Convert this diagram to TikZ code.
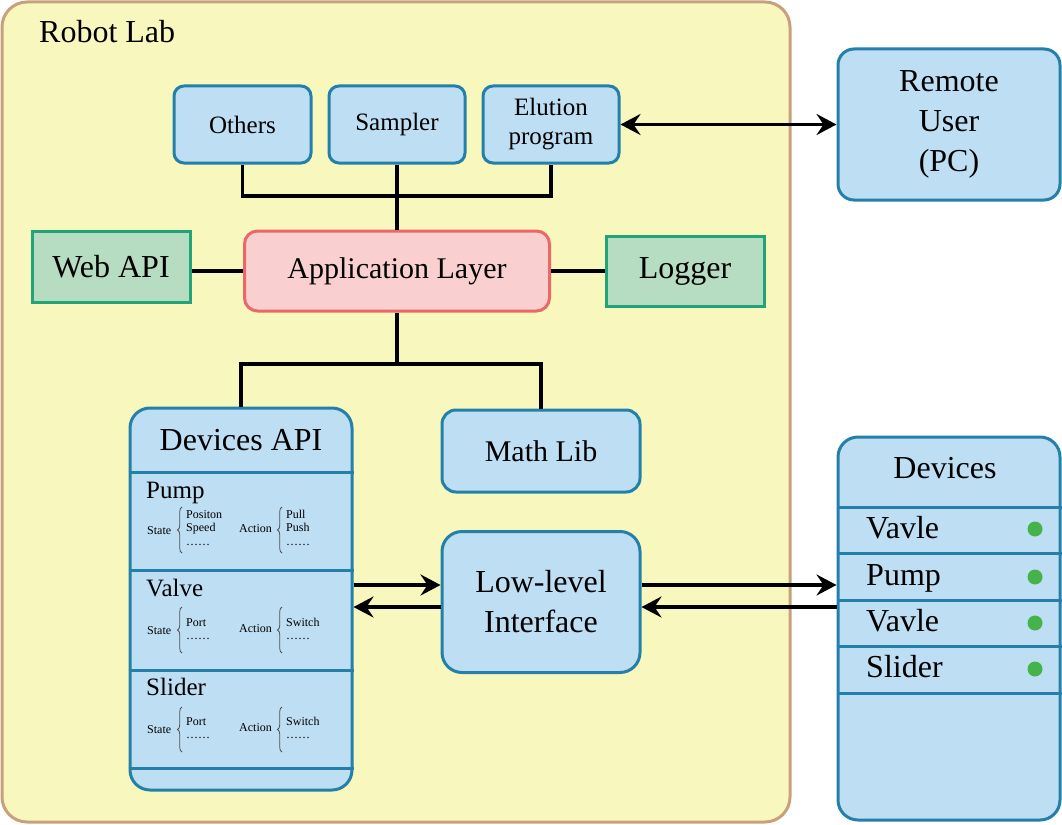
\documentclass[tikz,border=0pt]{standalone}
\usepackage{fontspec}
\setmainfont{Liberation Serif}
\usepackage{tikz}
\usetikzlibrary{shapes,positioning,calc}
\usetikzlibrary{arrows.meta,decorations.pathreplacing}
\definecolor{labfill}{RGB}{248,247,190}
\definecolor{labline}{RGB}{200,160,125}
\definecolor{bluefill}{RGB}{190,222,244}
\definecolor{blueline}{RGB}{35,128,170}
\definecolor{pinkfill}{RGB}{249,207,207}
\definecolor{pinkline}{RGB}{234,104,104}
\definecolor{greenfill}{RGB}{182,220,193}
\definecolor{greenline}{RGB}{32,164,120}
\definecolor{dotgreen}{RGB}{70,178,75}
\definecolor{bracegray}{RGB}{80,80,80}

\begin{document}
\begin{tikzpicture}[x=1pt,y=-1pt,>={Stealth[length=20pt,width=21pt,inset=7pt]},
  bigfont/.style={font=\fontsize{32}{40}\selectfont},
  midfont/.style={font=\fontsize{30}{38}\selectfont},
  smallfont/.style={font=\fontsize{25}{29}\selectfont},
  tinyfont/.style={font=\fontsize{12}{13.5}\selectfont},
  bluebox/.style={draw=blueline,fill=bluefill,line width=3pt,rounded corners=#1,inner sep=0pt,align=center},
  bluebox/.default=10pt,
  greenbox/.style={draw=greenline,fill=greenfill,line width=3pt,inner sep=0pt},
  leftlabel/.style={anchor=west,inner sep=0pt,text height=#1,text depth=0pt},
  itemlist/.style={tinyfont,anchor=base west,inner sep=0pt},
  curly/.style={draw=bracegray,line width=0.8pt,decorate,decoration={brace,amplitude=4.5pt}},
  link/.style={line width=3.3pt},
  rowline/.style={draw=blueline,line width=3pt},
  dot/.style={circle,fill=dotgreen,inner sep=0pt,minimum size=15pt}]
\useasboundingbox (0,0) rectangle (1062,824);
% robot lab frame
\node[draw=labline,fill=labfill,line width=3pt,rounded corners=25pt,minimum width=788pt,minimum height=820pt] (lab) at (396,412) {};
\node[bigfont,leftlabel=21pt] (labname) at (39,32) {Robot Lab};
% top row
\node[bluebox,smallfont,minimum width=137pt,minimum height=77pt] (others) at (242.5,124.5) {Others};
\node[bluebox,smallfont,minimum width=136pt,minimum height=77pt] (sampler) at (397,124.5) {Sampler};
\node[bluebox,smallfont,minimum width=136pt,minimum height=77pt] (elution) at (551,124.5) {Elution\\program};
\node[bluebox=16pt,bigfont,minimum width=222pt,minimum height=151pt] (remote) at (949,124.5) {Remote\\User\\(PC)};
% middle row
\node[greenbox,bigfont,minimum width=158pt,minimum height=71pt] (webapi) at (111,266.5) {Web API};
\node[draw=pinkline,fill=pinkfill,line width=3pt,rounded corners=13pt,inner sep=0pt,midfont,minimum width=305pt,minimum height=80pt] (app) at (397,271) {Application Layer};
\node[greenbox,bigfont,minimum width=158pt,minimum height=70pt] (logger) at (685,271) {Logger};
% lower row
\node[bluebox=20pt,minimum width=222pt,minimum height=382pt] (dapi) at (241,599) {};
\node[bluebox=14pt,midfont,minimum width=198pt,minimum height=82pt] (math) at (541,451) {Math Lib};
\node[bluebox=20pt,bigfont,minimum width=198pt,minimum height=141pt] (ll) at (541,602) {Low-level\\Interface};
\node[bluebox=20pt,minimum width=222pt,minimum height=383pt] (dev) at (949,628.5) {};
% devices api sections
\draw[rowline] (dapi.west |- 0,472) -- (dapi.east |- 0,472);
\draw[rowline] (dapi.west |- 0,570) -- (dapi.east |- 0,570);
\draw[rowline] (dapi.west |- 0,670) -- (dapi.east |- 0,670);
\draw[rowline] (dapi.west |- 0,768) -- (dapi.east |- 0,768);
\node[bigfont] (dapiname) at (241,440) {Devices API};
\node[smallfont,leftlabel=16.5pt] (pump) at (146,490) {Pump};
\node[tinyfont,leftlabel=8pt] (pumpstate) at (147,530) {State};
\node[itemlist] (pumpstatelist) at (186,518) {\begin{tabular}[t]{@{}l@{}}Positon\\Speed\\……\end{tabular}};
\draw[curly] (182,553) -- (182,507);
\node[tinyfont,leftlabel=8pt] (pumpaction) at (239,528) {Action};
\node[itemlist] (pumpactionlist) at (286,518) {\begin{tabular}[t]{@{}l@{}}Pull\\Push\\……\end{tabular}};
\draw[curly] (282,553) -- (282,507);
\node[smallfont,leftlabel=16.5pt] (valve) at (146,588) {Valve};
\node[tinyfont,leftlabel=8pt] (valvestate) at (147,630) {State};
\node[itemlist] (valvestatelist) at (186,626) {\begin{tabular}[t]{@{}l@{}}Port\\……\end{tabular}};
\draw[curly] (182,653) -- (182,607);
\node[tinyfont,leftlabel=8pt] (valveaction) at (239,628) {Action};
\node[itemlist] (valveactionlist) at (286,626) {\begin{tabular}[t]{@{}l@{}}Switch\\……\end{tabular}};
\draw[curly] (282,653) -- (282,607);
\node[smallfont,leftlabel=16.5pt] (slider) at (146,687) {Slider};
\node[tinyfont,leftlabel=8pt] (sliderstate) at (147,729) {State};
\node[itemlist] (sliderstatelist) at (186,725) {\begin{tabular}[t]{@{}l@{}}Port\\……\end{tabular}};
\draw[curly] (182,752) -- (182,707);
\node[tinyfont,leftlabel=8pt] (slideraction) at (239,727) {Action};
\node[itemlist] (slideractionlist) at (286,725) {\begin{tabular}[t]{@{}l@{}}Switch\\……\end{tabular}};
\draw[curly] (282,752) -- (282,707);
% devices list
\draw[rowline] (dev.west |- 0,507) -- (dev.east |- 0,507);
\draw[rowline] (dev.west |- 0,553) -- (dev.east |- 0,553);
\draw[rowline] (dev.west |- 0,600) -- (dev.east |- 0,600);
\draw[rowline] (dev.west |- 0,646) -- (dev.east |- 0,646);
\draw[rowline] (dev.west |- 0,693) -- (dev.east |- 0,693);
\node[bigfont] (devname) at (945,468) {Devices};
\node[bigfont,leftlabel=21pt] (dev1) at (866,528) {Vavle};
\node[bigfont,leftlabel=21pt] (dev2) at (866,575) {Pump};
\node[bigfont,leftlabel=21pt] (dev3) at (866,621) {Vavle};
\node[bigfont,leftlabel=21pt] (dev4) at (866,667) {Slider};
\node[dot] (dot1) at (1035,529) {};
\node[dot] (dot2) at (1035,577) {};
\node[dot] (dot3) at (1035,623) {};
\node[dot] (dot4) at (1035,669) {};
% connectors
\coordinate (topbus) at (0,196);
\coordinate (lowbus) at (0,364);
\coordinate (upper) at (0,585);
\coordinate (lower) at (0,607);
\draw[link] (others.south) |- (topbus -| elution.south) -- (elution.south);
\draw[link] (sampler) -- (app);
\draw[link] (app.west) -- (app.west -| webapi.east);
\draw[link] (app) -- (logger);
\draw[link] (app.south) -- (app.south |- lowbus);
\draw[link] (dapi.north) |- (lowbus -| math.north) -- (math.north);
\draw[link,<->] (elution) -- (remote);
\draw[link,->] (dapi.east |- upper) -- (ll.west |- upper);
\draw[link,->] (ll.west |- lower) -- (dapi.east |- lower);
\draw[link,->] (ll.east |- upper) -- (dev.west |- upper);
\draw[link,->] (dev.west |- lower) -- (ll.east |- lower);
\end{tikzpicture}
\end{document}
